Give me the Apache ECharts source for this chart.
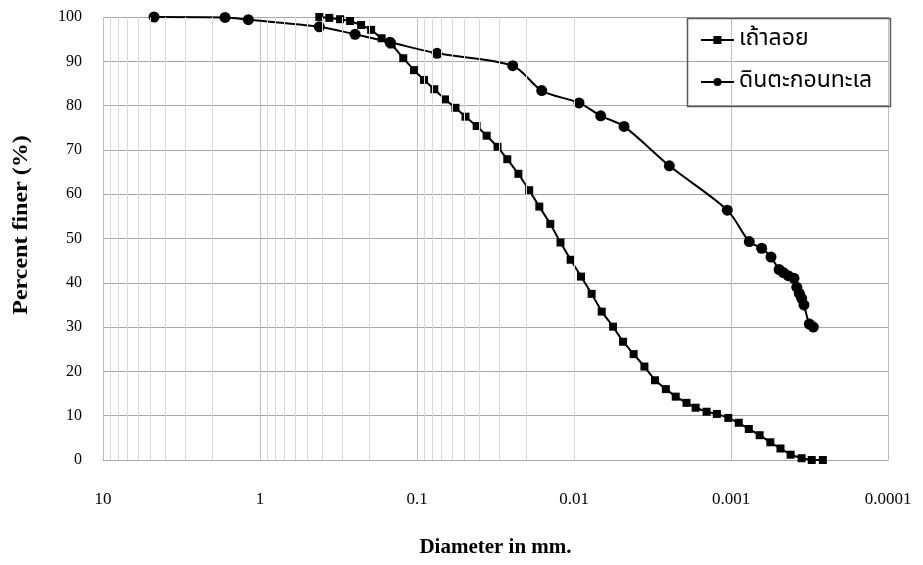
<!DOCTYPE html>
<html>
<head>
<meta charset="utf-8">
<script src="https://cdn.jsdelivr.net/npm/echarts@6/dist/echarts.min.js"></script>
<style>
html,body{margin:0;padding:0;background:#fff;}
#chart{width:923px;height:565px;}
</style>
</head>
<body>
<div id="chart"></div>
<script>
// ---- data ----
const seriesNames = ['เถ้าลอย', 'ดินตะกอนทะเล'];

const ashDiameter = [0.419, 0.362, 0.309, 0.267, 0.227, 0.196, 0.168, 0.145, 0.1223, 0.1045,
  0.0902, 0.0776, 0.0663, 0.0569, 0.0491, 0.0417, 0.0360, 0.0307, 0.0266, 0.0226,
  0.0193, 0.01663, 0.01416, 0.01219, 0.01050, 0.00902, 0.00772, 0.00666, 0.00564, 0.00487,
  0.00417, 0.00356, 0.00305, 0.00260, 0.00225, 0.00192, 0.00168, 0.00143, 0.00123, 0.00104,
  0.000892, 0.000770, 0.000657, 0.000562, 0.000484, 0.000417, 0.000355, 0.000306, 0.000260];
const ashFiner = [100, 99.8, 99.5, 99.1, 98.2, 97.1, 95.2, 93.8, 90.7, 88.0,
  85.8, 83.7, 81.4, 79.5, 77.5, 75.4, 73.2, 70.7, 67.9, 64.6,
  60.9, 57.2, 53.3, 49.1, 45.2, 41.4, 37.5, 33.5, 30.1, 26.7,
  23.9, 21.1, 18.0, 16.0, 14.3, 12.9, 11.8, 10.9, 10.4, 9.5,
  8.4, 7.0, 5.6, 4.0, 2.6, 1.2, 0.4, 0, 0];

const clayDiameter = [4.73, 1.67, 1.187, 0.419, 0.248, 0.1486, 0.0746, 0.02457, 0.01605, 0.00929,
  0.00676, 0.00480, 0.00247, 0.001056, 0.000765, 0.000638, 0.000556, 0.000494, 0.000464, 0.000432,
  0.000397, 0.000381, 0.000367, 0.000355, 0.000343, 0.000317, 0.000299];
const clayFiner = [100, 99.9, 99.4, 97.8, 96.1, 94.3, 91.8, 89.0, 83.4, 80.6,
  77.7, 75.3, 66.4, 56.4, 49.3, 47.8, 45.8, 43.0, 42.3, 41.6,
  41.0, 39.0, 37.6, 36.5, 35.0, 30.7, 30.0];

const xMin = 0.0001, xMax = 10;
const yMin = 0, yMax = 100, yStep = 10;
const xTitle = 'Diameter in mm.';
const yTitle = 'Percent finer (%)';

// minor grid positions (2..9 within each decade)
const minorGrid = [];
for (let e = -4; e <= 0; e++) {
  for (let k = 2; k <= 9; k++) minorGrid.push(+(k * Math.pow(10, e)).toPrecision(3));
}

const serif = '"Liberation Serif", "Times New Roman", serif';
const thaiFont = '"Noto Sans Thai", "Tahoma", "Loma", "Garuda", "Norasi", "DejaVu Sans", sans-serif';

const chart = echarts.init(document.getElementById('chart'), null, {renderer: 'canvas'});
chart.setOption({
  animation: false,
  backgroundColor: '#ffffff',
  grid: {left: 103, right: 35, top: 17, bottom: 105, containLabel: false},
  xAxis: {
    type: 'log',
    logBase: 10,
    min: xMin,
    max: xMax,
    inverse: true,
    name: xTitle,
    nameLocation: 'middle',
    nameGap: 77,
    nameTextStyle: {fontFamily: serif, fontWeight: 'bold', fontSize: 21, color: '#000'},
    axisLine: {show: true, lineStyle: {color: '#a6a6a6', width: 1}},
    axisTick: {show: false},
    axisLabel: {
      fontFamily: serif, fontSize: 17, color: '#000', margin: 31,
      formatter: function (v) {
        const e = Math.round(Math.log10(v));
        return e >= 0 ? String(Math.pow(10, e)) : Math.pow(10, e).toFixed(-e);
      }
    },
    splitLine: {show: true, lineStyle: {color: '#bfbfbf', width: 1}}
  },
  yAxis: {
    type: 'value',
    min: yMin,
    max: yMax,
    interval: yStep,
    axisLine: {show: false},
    axisTick: {show: false},
    axisLabel: {fontFamily: serif, fontSize: 16, color: '#000', margin: 21},
    splitLine: {show: true, lineStyle: {color: '#a6a6a6', width: 1}}
  },
  legend: {
    orient: 'vertical',
    left: 700,
    top: 27,
    padding: 0,
    itemGap: 16,
    itemWidth: 33,
    itemHeight: 10,
    textStyle: {fontFamily: thaiFont, fontSize: 23, color: '#000', lineHeight: 26},
    data: seriesNames
  },
  graphic: [{
    type: 'rect',
    shape: {x: 687.5, y: 18.5, width: 203, height: 88},
    style: {fill: 'none', stroke: '#595959', lineWidth: 1.5},
    silent: true,
    z: 10
  }, {
    type: 'text',
    x: 22,
    y: 225,
    rotation: Math.PI / 2,
    scaleX: 1.2,
    silent: true,
    style: {
      text: yTitle,
      fontFamily: serif,
      fontWeight: 'bold',
      fontSize: 20,
      fill: '#000',
      align: 'center',
      verticalAlign: 'middle'
    }
  }],
  series: [
    {
      name: '__minorgrid',
      type: 'line',
      data: [],
      silent: true,
      z: 0,
      markLine: {
        silent: true,
        symbol: ['none', 'none'],
        label: {show: false},
        lineStyle: {color: '#d9d9d9', width: 1, type: 'solid'},
        data: minorGrid.map(v => ({xAxis: v}))
      }
    },
    {
      name: seriesNames[0],
      type: 'line',
      data: ashDiameter.map((d, i) => [d, ashFiner[i]]),
      symbol: 'rect',
      symbolSize: 8,
      showAllSymbol: true,
      smooth: false,
      itemStyle: {color: '#000'},
      lineStyle: {color: '#000', width: 2},
      z: 3
    },
    {
      name: seriesNames[1],
      type: 'line',
      data: clayDiameter.map((d, i) => [d, clayFiner[i]]),
      symbol: 'circle',
      symbolSize: 11,
      showAllSymbol: true,
      smooth: 0.3,
      itemStyle: {color: '#000'},
      lineStyle: {color: '#000', width: 2},
      z: 3
    }
  ]
});
</script>
</body>
</html>
